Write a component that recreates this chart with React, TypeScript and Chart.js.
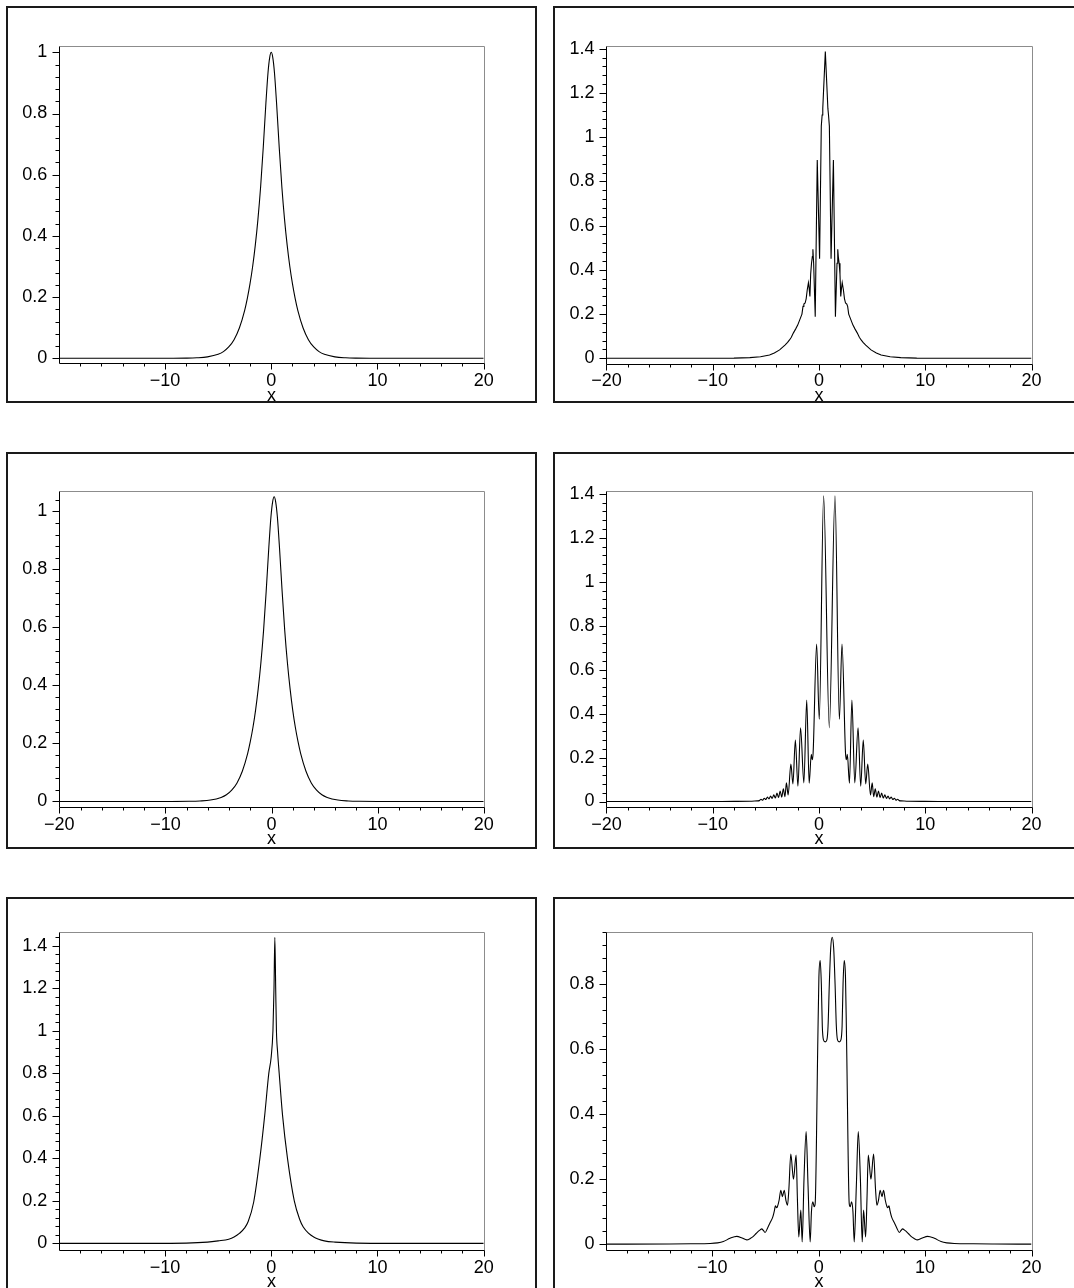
import React, { useEffect, useRef } from "react";
import { Chart, registerables } from "chart.js";

Chart.register(...registerables);

const FONT = "'Liberation Sans', Arial, Helvetica, sans-serif";
Chart.defaults.font.family = FONT;

// ---------------- data ----------------
// Panel 1 (top left)
const p1X = [-20, -14, -10, -8, -7, -6, -5, -4.5, -4, -3.5, -3, -2.5, -2.25, -2, -1.75, -1.5, -1.25, -1, -0.75, -0.5, -0.3, -0.15, 0, 0.15, 0.3, 0.5, 0.75, 1, 1.25, 1.5, 1.75, 2, 2.25, 2.5, 3, 3.5, 4, 4.5, 5, 6, 7, 8, 10, 14, 20];
const p1Y = [0, 0, 0.0001, 0.0006, 0.0017, 0.0047, 0.013, 0.022, 0.037, 0.061, 0.099, 0.157, 0.196, 0.243, 0.3, 0.37, 0.455, 0.56, 0.69, 0.835, 0.935, 0.982, 1, 0.982, 0.935, 0.835, 0.69, 0.56, 0.455, 0.37, 0.3, 0.243, 0.196, 0.157, 0.099, 0.061, 0.037, 0.022, 0.013, 0.0047, 0.0017, 0.0006, 0.0001, 0, 0];

// Panel 2 (top right)
const p2X = [-20, -11, -8, -6.5, -5.5, -4.65, -4.2, -3.7, -3.2, -2.95, -2.77, -2.6, -2.4, -2.2, -2.0, -1.8, -1.6, -1.5, -1.42, -1.3, -1.2, -1.1, -0.99, -0.93, -0.85, -0.78, -0.7, -0.62, -0.57, -0.5, -0.35, -0.16, 0.06, 0.22, 0.3, 0.36, 0.6, 0.84, 0.9, 0.98, 1.14, 1.36, 1.55, 1.7, 1.77, 1.82, 1.9, 1.98, 2.05, 2.13, 2.19, 2.3, 2.4, 2.5, 2.62, 2.7, 2.8, 3.0, 3.2, 3.4, 3.6, 3.8, 3.97, 4.15, 4.4, 4.9, 5.4, 5.85, 6.7, 7.7, 9.2, 12.2, 20];
const p2Y = [0, 0.0002, 0.001, 0.003, 0.007, 0.015, 0.024, 0.038, 0.06, 0.072, 0.083, 0.095, 0.115, 0.132, 0.15, 0.175, 0.2, 0.235, 0.245, 0.25, 0.27, 0.31, 0.342, 0.32, 0.28, 0.38, 0.43, 0.46, 0.493, 0.43, 0.188, 0.897, 0.45, 1.05, 1.1, 1.13, 1.387, 1.13, 1.1, 1.05, 0.45, 0.897, 0.188, 0.43, 0.493, 0.46, 0.43, 0.38, 0.28, 0.32, 0.342, 0.31, 0.27, 0.25, 0.245, 0.235, 0.2, 0.175, 0.15, 0.132, 0.115, 0.095, 0.083, 0.072, 0.06, 0.038, 0.024, 0.015, 0.007, 0.003, 0.001, 0.0002, 0];

// Panel 3 (middle left)
const p3X = [-20, -14, -9.75, -7.75, -6.75, -5.75, -4.75, -4.25, -3.75, -3.25, -2.75, -2.25, -2, -1.75, -1.5, -1.25, -1, -0.75, -0.5, -0.25, -0.05, 0.1, 0.25, 0.4, 0.55, 0.75, 1, 1.25, 1.5, 1.75, 2, 2.25, 2.5, 2.75, 3.25, 3.75, 4.25, 4.75, 5.25, 6.25, 7.25, 8.25, 10.25, 14, 20];
const p3Y = [0, 0, 0.0001, 0.0006, 0.0018, 0.0049, 0.014, 0.023, 0.039, 0.064, 0.104, 0.165, 0.206, 0.255, 0.315, 0.389, 0.478, 0.588, 0.725, 0.877, 0.982, 1.031, 1.05, 1.031, 0.982, 0.877, 0.725, 0.588, 0.478, 0.389, 0.315, 0.255, 0.206, 0.165, 0.104, 0.064, 0.039, 0.023, 0.014, 0.0049, 0.0018, 0.0006, 0.0001, 0, 0];

// Panel 4 (middle right)
const p4X = [-20, -12, -8, -6.5, -5.8, -5.6, -5.45, -5.3, -5.15, -5.0, -4.85, -4.7, -4.55, -4.4, -4.25, -4.1, -3.95, -3.8, -3.65, -3.5, -3.35, -3.2, -3.06, -2.9, -2.64, -2.45, -2.22, -1.98, -1.73, -1.42, -1.15, -0.92, -0.72, -0.64, -0.55, -0.22, 0.03, 0.44, 0.975, 1.51, 1.92, 2.17, 2.5, 2.59, 2.67, 2.87, 3.1, 3.37, 3.68, 3.93, 4.17, 4.4, 4.59, 4.85, 5.01, 5.15, 5.3, 5.45, 5.6, 5.75, 5.9, 6.05, 6.2, 6.35, 6.5, 6.65, 6.8, 6.95, 7.1, 7.25, 7.4, 7.55, 7.75, 8.45, 9.95, 14, 20];
const p4Y = [0, 0, 0.0005, 0.001, 0.003, 0.004, 0.01, 0.006, 0.015, 0.009, 0.02, 0.012, 0.025, 0.014, 0.03, 0.016, 0.038, 0.018, 0.048, 0.02, 0.058, 0.022, 0.085, 0.03, 0.17, 0.08, 0.28, 0.07, 0.335, 0.085, 0.462, 0.083, 0.215, 0.19, 0.22, 0.717, 0.374, 1.391, 0.335, 1.391, 0.374, 0.717, 0.22, 0.19, 0.215, 0.083, 0.462, 0.085, 0.335, 0.07, 0.28, 0.08, 0.17, 0.03, 0.085, 0.022, 0.058, 0.02, 0.048, 0.018, 0.038, 0.016, 0.03, 0.014, 0.025, 0.012, 0.02, 0.009, 0.015, 0.006, 0.01, 0.004, 0.003, 0.001, 0.0005, 0, 0];

// Panel 5 (bottom left)
const p5X = [-20, -12, -8, -6, -5, -4, -3.5, -3, -2.5, -2.17, -1.65, -1.07, -0.62, -0.23, 0, 0.16, 0.26, 0.34, 0.42, 0.49, 0.6, 0.75, 1.07, 1.53, 2.17, 2.7, 3, 3.5, 4, 4.4, 5, 6, 8, 12, 20];
const p5Y = [0, 0.0003, 0.0015, 0.006, 0.012, 0.02, 0.03, 0.047, 0.073, 0.103, 0.195, 0.4, 0.6, 0.8, 0.88, 1.0, 1.2, 1.44, 1.2, 1.0, 0.9, 0.8, 0.6, 0.4, 0.2, 0.11, 0.078, 0.048, 0.03, 0.021, 0.012, 0.006, 0.0015, 0.0003, 0];

// Panel 6 (bottom right)
const p6X = [-20, -14, -12, -10.2, -9.5, -8.96, -8.33, -7.7, -7.2, -6.76, -6.4, -6.14, -5.9, -5.66, -5.5, -5.35, -5.2, -5.04, -4.8, -4.57, -4.31, -4.15, -4.07, -3.95, -3.88, -3.72, -3.56, -3.41, -3.24, -3.08, -2.93, -2.8, -2.62, -2.37, -2.12, -2.0, -1.87, -1.68, -1.55, -1.38, -1.18, -1.0, -0.8, -0.68, -0.55, -0.42, -0.33, -0.08, 0.02, 0.14, 0.25, 0.34, 0.45, 0.61, 0.77, 0.88, 1.0, 1.13, 1.27, 1.41, 1.54, 1.66, 1.77, 1.93, 2.09, 2.2, 2.29, 2.4, 2.52, 2.62, 2.87, 2.96, 3.09, 3.22, 3.34, 3.54, 3.72, 3.92, 4.09, 4.22, 4.41, 4.54, 4.66, 4.91, 5.16, 5.34, 5.47, 5.62, 5.78, 5.95, 6.1, 6.26, 6.42, 6.49, 6.61, 6.69, 6.85, 7.11, 7.34, 7.58, 7.74, 7.89, 8.04, 8.2, 8.44, 8.68, 8.94, 9.3, 9.74, 10.24, 10.87, 11.5, 12.04, 12.74, 14.54, 16.54, 20];
const p6Y = [0, 0.0005, 0.001, 0.002, 0.004, 0.008, 0.018, 0.024, 0.019, 0.013, 0.018, 0.024, 0.032, 0.04, 0.044, 0.047, 0.042, 0.036, 0.05, 0.066, 0.084, 0.105, 0.118, 0.112, 0.115, 0.135, 0.166, 0.146, 0.166, 0.135, 0.12, 0.17, 0.277, 0.2, 0.274, 0.14, 0.022, 0.105, 0.007, 0.2, 0.346, 0.18, 0.007, 0.1, 0.13, 0.115, 0.125, 0.628, 0.82, 0.872, 0.8, 0.67, 0.628, 0.622, 0.628, 0.67, 0.8, 0.91, 0.944, 0.91, 0.8, 0.67, 0.628, 0.622, 0.628, 0.67, 0.8, 0.872, 0.82, 0.628, 0.125, 0.115, 0.13, 0.1, 0.007, 0.18, 0.346, 0.2, 0.007, 0.105, 0.022, 0.14, 0.274, 0.2, 0.277, 0.17, 0.12, 0.135, 0.166, 0.146, 0.166, 0.135, 0.115, 0.112, 0.118, 0.105, 0.084, 0.066, 0.05, 0.036, 0.042, 0.047, 0.044, 0.04, 0.032, 0.024, 0.018, 0.013, 0.019, 0.024, 0.018, 0.008, 0.004, 0.002, 0.001, 0.0005, 0];

// tick labels
const xTicksShort = [-10, 0, 10, 20];
const xTicksFull = [-20, -10, 0, 10, 20];
const yTicksTo1 = [0, 0.2, 0.4, 0.6, 0.8, 1];
const yTicksTo14 = [0, 0.2, 0.4, 0.6, 0.8, 1, 1.2, 1.4];
const yTicksTo08 = [0, 0.2, 0.4, 0.6, 0.8];
const X_MINOR = 2;
const Y_MINOR = 0.04;

// ---------------- layout ----------------
type Box = { left: number; top: number; width: number; height: number };
type Plot = { left: number; top: number; right: number; bottom: number };
type PanelSpec = {
  box: Box;
  plot: Plot;
  xs: number[];
  ys: number[];
  xMin: number;
  xMax: number;
  yMin: number;
  yMax: number;
  xTicks: number[];
  yTicks: number[];
  smooth: boolean;
};

const PANELS: PanelSpec[] = [
  {
    box: { left: 6, top: 6, width: 531, height: 397 },
    plot: { left: 59.3, top: 45.7, right: 483.7, bottom: 363.3 },
    xs: p1X, ys: p1Y, xMin: -19.95, xMax: 20, yMin: -0.0163, yMax: 1.0216,
    xTicks: xTicksShort, yTicks: yTicksTo1, smooth: true,
  },
  {
    box: { left: 553, top: 6, width: 531, height: 397 },
    plot: { left: 606.4, top: 45.7, right: 1031.5, bottom: 363.5 },
    xs: p2X, ys: p2Y, xMin: -20, xMax: 20, yMin: -0.0235, yMax: 1.4136,
    xTicks: xTicksFull, yTicks: yTicksTo14, smooth: false,
  },
  {
    box: { left: 6, top: 452, width: 531, height: 397 },
    plot: { left: 59.3, top: 491, right: 483.7, bottom: 807 },
    xs: p3X, ys: p3Y, xMin: -20, xMax: 20, yMin: -0.019, yMax: 1.07,
    xTicks: xTicksFull, yTicks: yTicksTo1, smooth: true,
  },
  {
    box: { left: 553, top: 452, width: 531, height: 397 },
    plot: { left: 606.4, top: 491, right: 1031.5, bottom: 807 },
    xs: p4X, ys: p4Y, xMin: -20, xMax: 20, yMin: -0.025, yMax: 1.413,
    xTicks: xTicksFull, yTicks: yTicksTo14, smooth: true,
  },
  {
    box: { left: 6, top: 897, width: 531, height: 397 },
    plot: { left: 59.3, top: 931.7, right: 483.7, bottom: 1250 },
    xs: p5X, ys: p5Y, xMin: -19.95, xMax: 20, yMin: -0.031, yMax: 1.467,
    xTicks: xTicksShort, yTicks: yTicksTo14, smooth: true,
  },
  {
    box: { left: 553, top: 897, width: 531, height: 397 },
    plot: { left: 606.4, top: 931.7, right: 1031.5, bottom: 1250 },
    xs: p6X, ys: p6Y, xMin: -19.95, xMax: 20, yMin: -0.018, yMax: 0.961,
    xTicks: xTicksShort, yTicks: yTicksTo08, smooth: true,
  },
];

const EXTRA = 24; // canvas extends below box so the x title can be placed freely
const TITLE_BELOW_AXIS = 32.5; // centre of "x" below the axis line
const FONT_SIZE = 18;

const fmt = (v: number) => {
  const r = Math.round(v * 1000) / 1000;
  const s = String(Math.abs(r));
  return r < 0 ? "\u2212" + s : s;
};

const framePlugin = {
  id: "mapleFrame",
  afterDraw(chart: any, _args: any, opts: any) {
    const { ctx, chartArea } = chart;
    const xs = chart.scales.x;
    const ys = chart.scales.y;
    const L = Math.round(chartArea.left) + 0.5;
    const R = Math.round(chartArea.right) + 0.5;
    const T = Math.round(chartArea.top) + 0.5;
    const B = Math.round(chartArea.bottom) + 0.5;
    ctx.save();
    ctx.lineWidth = 1;
    ctx.strokeStyle = "#8c8c8c";
    ctx.beginPath();
    ctx.moveTo(L, T);
    ctx.lineTo(R, T);
    ctx.lineTo(R, B);
    ctx.stroke();
    ctx.strokeStyle = "#000";
    ctx.beginPath();
    ctx.moveTo(L, T);
    ctx.lineTo(L, B);
    ctx.lineTo(R, B);
    const isMajor = (v: number, arr: number[]) => arr.some((m) => Math.abs(m - v) < 1e-6);
    // x ticks
    for (const v of opts.xMajor as number[]) {
      if (v < xs.min - 1e-9 || v > xs.max + 1e-9) continue;
      const px = Math.round(xs.getPixelForValue(v)) + 0.5;
      ctx.moveTo(px, B);
      ctx.lineTo(px, B + 6);
    }
    for (let i = Math.ceil(xs.min / opts.xMinor - 1e-9); i * opts.xMinor <= xs.max + 1e-9; i++) {
      const v = i * opts.xMinor;
      if (isMajor(v, opts.xMajor)) continue;
      const px = Math.round(xs.getPixelForValue(v)) + 0.5;
      ctx.moveTo(px, B);
      ctx.lineTo(px, B + 3);
    }
    // y ticks
    for (const v of opts.yMajor as number[]) {
      if (v < ys.min - 1e-9 || v > ys.max + 1e-9) continue;
      const py = Math.round(ys.getPixelForValue(v)) + 0.5;
      ctx.moveTo(L, py);
      ctx.lineTo(L - 7, py);
    }
    for (let i = Math.ceil(ys.min / opts.yMinor - 1e-9); i * opts.yMinor <= ys.max + 1e-9; i++) {
      const v = i * opts.yMinor;
      if (isMajor(v, opts.yMajor)) continue;
      const py = Math.round(ys.getPixelForValue(v)) + 0.5;
      ctx.moveTo(L, py);
      ctx.lineTo(L - 4, py);
    }
    ctx.stroke();
    ctx.restore();
  },
};

function Panel({ spec }: { spec: PanelSpec }) {
  const ref = useRef<HTMLCanvasElement>(null);
  const W = spec.box.width;
  const H = spec.box.height + EXTRA;

  useEffect(() => {
    const canvas = ref.current;
    if (!canvas) return;
    const pl = spec.plot.left - spec.box.left;
    const pt = spec.plot.top - spec.box.top;
    const pr = spec.plot.right - spec.box.left;
    const pb = spec.plot.bottom - spec.box.top;
    const lineHeight = FONT_SIZE * 1.2;
    const titlePadBottom = H - (pb + TITLE_BELOW_AXIS) - lineHeight / 2;
    const n = Math.min(spec.xs.length, spec.ys.length);
    const points = [];
    for (let i = 0; i < n; i++) points.push({ x: spec.xs[i], y: spec.ys[i] });

    const chart = new Chart(canvas, {
      type: "line",
      data: {
        datasets: [
          {
            data: points,
            borderColor: "#000",
            borderWidth: 1.1,
            pointRadius: 0,
            fill: false,
            tension: spec.smooth ? 0.4 : 0,
            cubicInterpolationMode: spec.smooth ? "monotone" : "default",
          } as any,
        ],
      },
      options: {
        animation: false,
        responsive: false,
        maintainAspectRatio: false,
        devicePixelRatio: 1,
        events: [],
        layout: { padding: { left: 0, top: pt, right: W - pr, bottom: 0 } },
        plugins: {
          legend: { display: false },
          tooltip: { enabled: false },
          mapleFrame: { xMajor: spec.xTicks, yMajor: spec.yTicks, xMinor: X_MINOR, yMinor: Y_MINOR },
        } as any,
        scales: {
          x: {
            type: "linear",
            position: "bottom",
            min: spec.xMin,
            max: spec.xMax,
            afterFit: (s: any) => {
              s.height = H - pb;
            },
            afterBuildTicks: (s: any) => {
              s.ticks = spec.xTicks.map((v) => ({ value: v }));
            },
            grid: { display: false, drawTicks: false },
            border: { display: false },
            ticks: {
              color: "#000",
              font: { size: FONT_SIZE, family: FONT },
              padding: 7,
              autoSkip: false,
              maxRotation: 0,
              minRotation: 0,
              callback: (v: any) => fmt(Number(v)),
            },
            title: {
              display: true,
              text: "x",
              color: "#000",
              font: { size: FONT_SIZE, family: FONT, lineHeight: 1.2 },
              padding: { top: 0, bottom: titlePadBottom },
            },
          },
          y: {
            type: "linear",
            position: "left",
            min: spec.yMin,
            max: spec.yMax,
            afterFit: (s: any) => {
              s.width = pl;
            },
            afterBuildTicks: (s: any) => {
              s.ticks = spec.yTicks.map((v) => ({ value: v }));
            },
            grid: { display: false, drawTicks: false },
            border: { display: false },
            ticks: {
              color: "#000",
              font: { size: FONT_SIZE, family: FONT },
              padding: 12,
              autoSkip: false,
              callback: (v: any) => fmt(Number(v)),
            },
          },
        },
      },
      plugins: [framePlugin as any],
    });
    return () => chart.destroy();
  }, []);

  return (
    <>
      <canvas
        ref={ref}
        width={W}
        height={H}
        style={{ position: "absolute", left: spec.box.left, top: spec.box.top, width: W, height: H }}
      />
      <div
        style={{
          position: "absolute",
          left: spec.box.left,
          top: spec.box.top,
          width: spec.box.width,
          height: spec.box.height,
          border: "2px solid #1a1a1a",
          boxSizing: "border-box",
          pointerEvents: "none",
        }}
      />
    </>
  );
}

export default function App() {
  return (
    <div
      style={{
        position: "absolute",
        left: 0,
        top: 0,
        width: 1074,
        height: 1288,
        overflow: "hidden",
        background: "#fff",
      }}
    >
      {PANELS.map((p, i) => (
        <Panel key={i} spec={p} />
      ))}
    </div>
  );
}
